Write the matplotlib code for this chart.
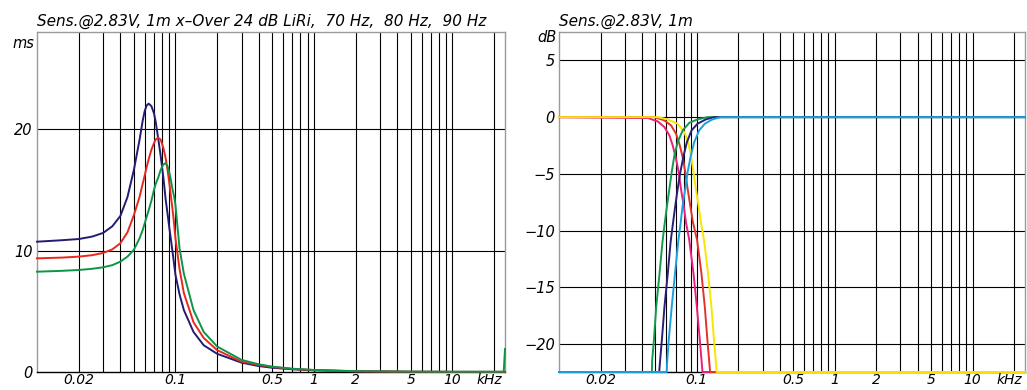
import matplotlib
matplotlib.use("Agg")
import matplotlib.pyplot as plt

# ---------------- data ----------------
# Left chart: group delay (ms) vs frequency (kHz)
gd_freq = [0.01, 0.015, 0.02, 0.025, 0.03, 0.035, 0.04, 0.045, 0.05, 0.055,
           0.058, 0.06, 0.062, 0.064, 0.067, 0.07, 0.072, 0.075, 0.078, 0.08,
           0.082, 0.085, 0.088, 0.09, 0.092, 0.095, 0.098, 0.1, 0.107,
           0.115, 0.135, 0.16, 0.2, 0.3, 0.4, 0.5, 0.7, 1, 2, 5, 10, 23.5, 24]
gd_70 = [10.73, 10.85, 10.95, 11.15, 11.45, 12.0, 12.85, 14.4, 16.6, 19.1,
         20.7, 21.5, 21.95, 22.1, 21.9, 21.3, 20.6, 19.25, 17.9, 16.9,
         15.9, 14.2, 12.9, 12.0, 11.2, 10.0, 8.8, 8.0, 6.4,
         5.1, 3.3, 2.2, 1.5, 0.77, 0.49, 0.35, 0.22, 0.14, 0.05, 0.02, 0.01, 0.01, 0.01]
gd_80 = [9.36, 9.42, 9.5, 9.62, 9.8, 10.1, 10.6, 11.5, 12.9, 14.4,
         15.5, 16.2, 16.9, 17.5, 18.3, 18.85, 19.15, 19.3, 19.15, 18.8,
         18.4, 17.6, 16.5, 15.7, 14.8, 13.5, 12.1, 11.0, 8.5,
         6.5, 4.1, 2.8, 1.8, 0.85, 0.58, 0.41, 0.25, 0.16, 0.06, 0.02, 0.01, 0.01, 0.01]
gd_90 = [8.26, 8.33, 8.4, 8.5, 8.62, 8.8, 9.09, 9.5, 10.05, 11.0,
         11.7, 12.25, 12.8, 13.3, 14.1, 15.0, 15.5, 16.0, 16.6, 16.9,
         17.1, 17.2, 16.9, 16.5, 16.0, 15.1, 14.4, 13.75, 10.2,
         8.1, 5.1, 3.3, 2.1, 1.0, 0.63, 0.44, 0.27, 0.17, 0.07, 0.03, 0.02, 0.02, 1.9]

# Right chart: filter responses (dB) vs frequency (kHz)
lp70_f = [0.01, 0.0442, 0.0521, 0.0582, 0.0632, 0.0668, 0.0706, 0.0738, 0.0767,
          0.0802, 0.0833, 0.088, 0.0946, 0.1, 0.1051, 0.1086, 0.1098, 24]
lp70_db = [0, -0.08, -0.38, -0.88, -1.61, -2.49, -3.66, -4.84, -6.31,
           -7.77, -9.24, -10.8, -13.79, -16.72, -19.66, -21.71, -22.45, -22.45]
lp80_f = [0.01, 0.0493, 0.0582, 0.065, 0.0706, 0.0746, 0.0789, 0.0824, 0.0857,
          0.0895, 0.0936, 0.1003, 0.108, 0.1142, 0.1193, 0.1233, 0.1247, 24]
lp80_db = [0, 0, -0.29, -0.73, -1.46, -2.34, -3.52, -4.84, -6.31,
           -7.77, -9.24, -10.8, -13.79, -16.72, -19.66, -21.71, -22.45, -22.45]
lp90_f = [0.01, 0.0521, 0.0615, 0.0726, 0.0811, 0.0866, 0.0905, 0.0946, 0.0983,
          0.1028, 0.1069, 0.1126, 0.1206, 0.1275, 0.1332, 0.1377, 0.1393, 24]
lp90_db = [0, 0, -0.2, -0.58, -1.32, -2.2, -3.37, -4.84, -6.31,
           -7.77, -9.24, -10.8, -13.79, -16.72, -19.66, -21.71, -22.45, -22.45]
hp70_f = [0.01, 0.0472, 0.0474, 0.0488, 0.0507, 0.0536, 0.0563, 0.0582, 0.0608,
          0.0632, 0.0657, 0.0687, 0.0726, 0.0789, 0.0881, 0.1011, 0.1193, 24]
hp70_db = [-22.45, -22.45, -21.42, -19.66, -16.72, -13.79, -11.0, -9.53, -7.77,
           -6.31, -4.84, -3.37, -2.2, -1.17, -0.5, -0.2, 0, 0]
hp80_f = [0.01, 0.0533, 0.0539, 0.0557, 0.0582, 0.0615, 0.0645, 0.0668, 0.0698,
          0.0726, 0.0759, 0.0802, 0.0847, 0.0915, 0.1011, 0.1161, 0.1332, 24]
hp80_db = [-22.45, -22.45, -21.71, -19.66, -16.72, -13.79, -11.0, -9.53, -7.77,
           -6.31, -4.84, -3.37, -2.2, -1.17, -0.58, -0.2, 0, 0]
hp90_f = [0.01, 0.0605, 0.0608, 0.0625, 0.0657, 0.0694, 0.0732, 0.0759, 0.0789,
          0.0824, 0.0857, 0.0905, 0.0957, 0.1039, 0.1142, 0.1296, 0.1488, 24]
hp90_db = [-22.45, -22.45, -21.71, -19.66, -16.72, -13.79, -11.0, -9.53, -7.77,
           -6.31, -4.84, -3.37, -2.2, -1.17, -0.58, -0.2, 0, 0]

grid_freqs = [0.02, 0.03, 0.04, 0.05, 0.06, 0.07, 0.08, 0.09,
              0.1, 0.2, 0.3, 0.4, 0.5, 0.6, 0.7, 0.8, 0.9,
              1, 2, 3, 4, 5, 6, 7, 8, 9, 10, 20]
xtick_vals = [0.02, 0.1, 0.5, 1, 2, 5, 10]
xtick_text = ["0.02", "0.1", "0.5", "1", "2", "5", "10"]

left_yticks = [0, 10, 20]
left_ylabels = ["0", "10", "20"]
right_yticks = [5, 0, -5, -10, -15, -20]
right_ylabels = ["5", "0", "\u22125", "\u221210", "\u221215", "\u221220"]

left_title = "Sens.@2.83V, 1m x\u2013Over 24 dB LiRi,  70 Hz,  80 Hz,  90 Hz"
right_title = "Sens.@2.83V, 1m"

# ---------------- styling ----------------
plt.rcParams["font.family"] = ["DejaVu Sans"]
plt.rcParams["font.style"] = "italic"
FS = 10

fig = plt.figure(figsize=(10.27, 3.90), dpi=100)
axL = fig.add_axes([37 / 1027, 1 - 372 / 390, (505 - 37) / 1027, 340 / 390])
axR = fig.add_axes([559 / 1027, 1 - 372 / 390, (1025 - 559) / 1027, 340 / 390])


def style_axes(ax, yticks, ylabels, ygrid, ymin, ymax, unit, unit_dy, title):
    ax.set_xscale("log")
    ax.set_xlim(0.01, 24)
    ax.set_ylim(ymin, ymax)
    ax.minorticks_off()
    for f in grid_freqs:
        ax.axvline(f, color="black", lw=0.8, zorder=1)
    for y in ygrid:
        ax.axhline(y, color="black", lw=0.8, zorder=1)
    ax.set_xticks(xtick_vals)
    ax.set_xticklabels(xtick_text, fontsize=FS, fontstyle="italic")
    ax.set_yticks(yticks)
    ax.set_yticklabels(ylabels, fontsize=10.5, fontstyle="italic")
    ax.tick_params(axis="y", length=0, pad=3)
    ax.tick_params(axis="x", length=0, pad=1)
    for s in ["left", "top", "right"]:
        ax.spines[s].set_color("#9a9a9a")
        ax.spines[s].set_linewidth(1.0)
    ax.spines["bottom"].set_color("black")
    ax.spines["bottom"].set_linewidth(1.0)
    ax.annotate("kHz", xy=(1, 0), xycoords="axes fraction", xytext=(-2, -1),
                textcoords="offset points", ha="right", va="top",
                fontsize=FS, fontstyle="italic")
    ax.annotate(unit, xy=(0, 1), xycoords="axes fraction", xytext=(-2, unit_dy),
                textcoords="offset points", ha="right", va="top",
                fontsize=10.5, fontstyle="italic")
    ax.annotate(title, xy=(0, 1), xycoords="axes fraction", xytext=(0, 2.5),
                textcoords="offset points", ha="left", va="bottom",
                fontsize=11, fontstyle="italic")


style_axes(axL, left_yticks, left_ylabels, [10, 20], 0, 28, "ms", -3, left_title)
style_axes(axR, right_yticks, right_ylabels, [5, 0, -5, -10, -15, -20], -22.45, 7.5,
           "dB", 1.5, right_title)

lw = 1.4
axL.plot(gd_freq, gd_70, color="#221c72", lw=lw, zorder=3, clip_on=False)
axL.plot(gd_freq, gd_80, color="#e8281e", lw=lw, zorder=3, clip_on=False)
axL.plot(gd_freq, gd_90, color="#0e9447", lw=lw, zorder=3, clip_on=False)

axR.plot(lp70_f, lp70_db, color="#e8207a", lw=lw, zorder=3, clip_on=False)
axR.plot(lp80_f, lp80_db, color="#e2322a", lw=lw, zorder=3, clip_on=False)
axR.plot(lp90_f, lp90_db, color="#f7e600", lw=lw, zorder=3, clip_on=False)
axR.plot(hp70_f, hp70_db, color="#129a4e", lw=lw, zorder=3, clip_on=False)
axR.plot(hp80_f, hp80_db, color="#27207a", lw=lw, zorder=3, clip_on=False)
axR.plot(hp90_f, hp90_db, color="#1aa0de", lw=lw, zorder=3, clip_on=False)

fig.savefig("out.png", dpi=100)
